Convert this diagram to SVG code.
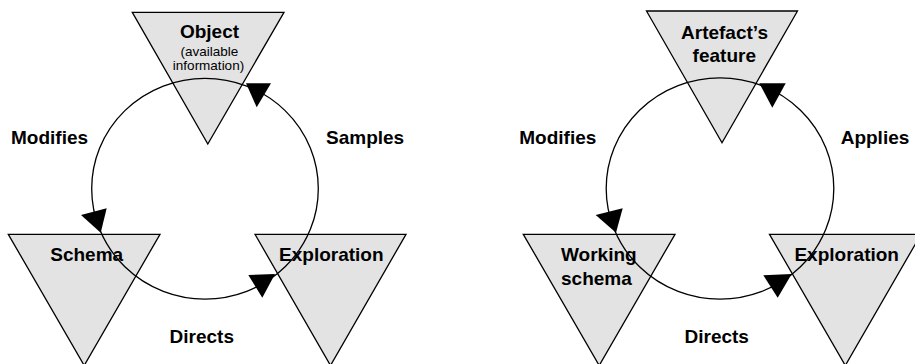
<svg xmlns="http://www.w3.org/2000/svg" width="915" height="364" viewBox="0 0 915 364">
<style>
.tri{fill:#e3e3e3;stroke:#000;stroke-width:1.3}
.loop{fill:none;stroke:#000;stroke-width:1.3}
.ah{fill:#000;stroke:none}
text{font-family:"Liberation Sans",Arial,sans-serif;fill:#000}
.b{font-weight:bold;font-size:19px}
.s{font-size:13.5px}
.c{text-anchor:middle}
</style>
<rect width="915" height="364" fill="#fff"/>
<g id="left-object"><polygon class="tri" points="132.3,12.3 284,12.3 207.8,144"/><text class="b c" x="209.5" y="38">Object</text><text class="s c" x="209.5" y="55.5">(available</text><text class="s c" x="208.5" y="70">information)</text></g>
<g id="left-schema"><polygon class="tri" points="8.3,234.3 160,234.3 84.2,365.5"/><text class="b c" x="86.7" y="261">Schema</text></g>
<g id="left-exploration"><polygon class="tri" points="255,234.3 406,234.3 330.5,365.5"/><text class="b c" x="331.3" y="261">Exploration</text></g>
<g id="right-feature"><polygon class="tri" points="646.5,11 797.5,11 722,142.7"/><text class="b c" x="724.5" y="39">Artefact’s</text><text class="b c" x="724.3" y="62.3">feature</text></g>
<g id="right-schema"><polygon class="tri" points="523.3,234.3 675,234.3 599.2,365.5"/><text class="b" x="561" y="261">Working</text><text class="b" x="561" y="284.5">schema</text></g>
<g id="right-exploration"><polygon class="tri" points="769.5,234.3 921,234.3 845.3,365.5"/><text class="b c" x="846.7" y="261">Exploration</text></g>
<g id="connectors">
<ellipse class="loop" cx="205" cy="188.7" rx="113.3" ry="110.4"/>
<ellipse class="loop" cx="720" cy="188.5" rx="113.8" ry="110.7"/>
<polygon class="ah" points="246,83.3 271,83.3 256.7,107.3"/>
<polygon class="ah" points="81,215 106.7,208.3 100.7,232.7"/>
<polygon class="ah" points="248.3,275 275,274 262.3,297.7"/>
<polygon class="ah" points="759.3,83.3 785.7,83.3 772.3,107.7"/>
<polygon class="ah" points="595.7,215 622.7,208.3 616,232.7"/>
<polygon class="ah" points="763.3,275.3 791.7,274 777.7,297.7"/>
</g>
<g id="labels">
<text class="b" x="11" y="144">Modifies</text>
<text class="b" x="326" y="144">Samples</text>
<text class="b c" x="201.8" y="342.7">Directs</text>
<text class="b" x="519.3" y="144">Modifies</text>
<text class="b" x="840.7" y="144">Applies</text>
<text class="b c" x="716.7" y="342.7">Directs</text>
</g>
</svg>
